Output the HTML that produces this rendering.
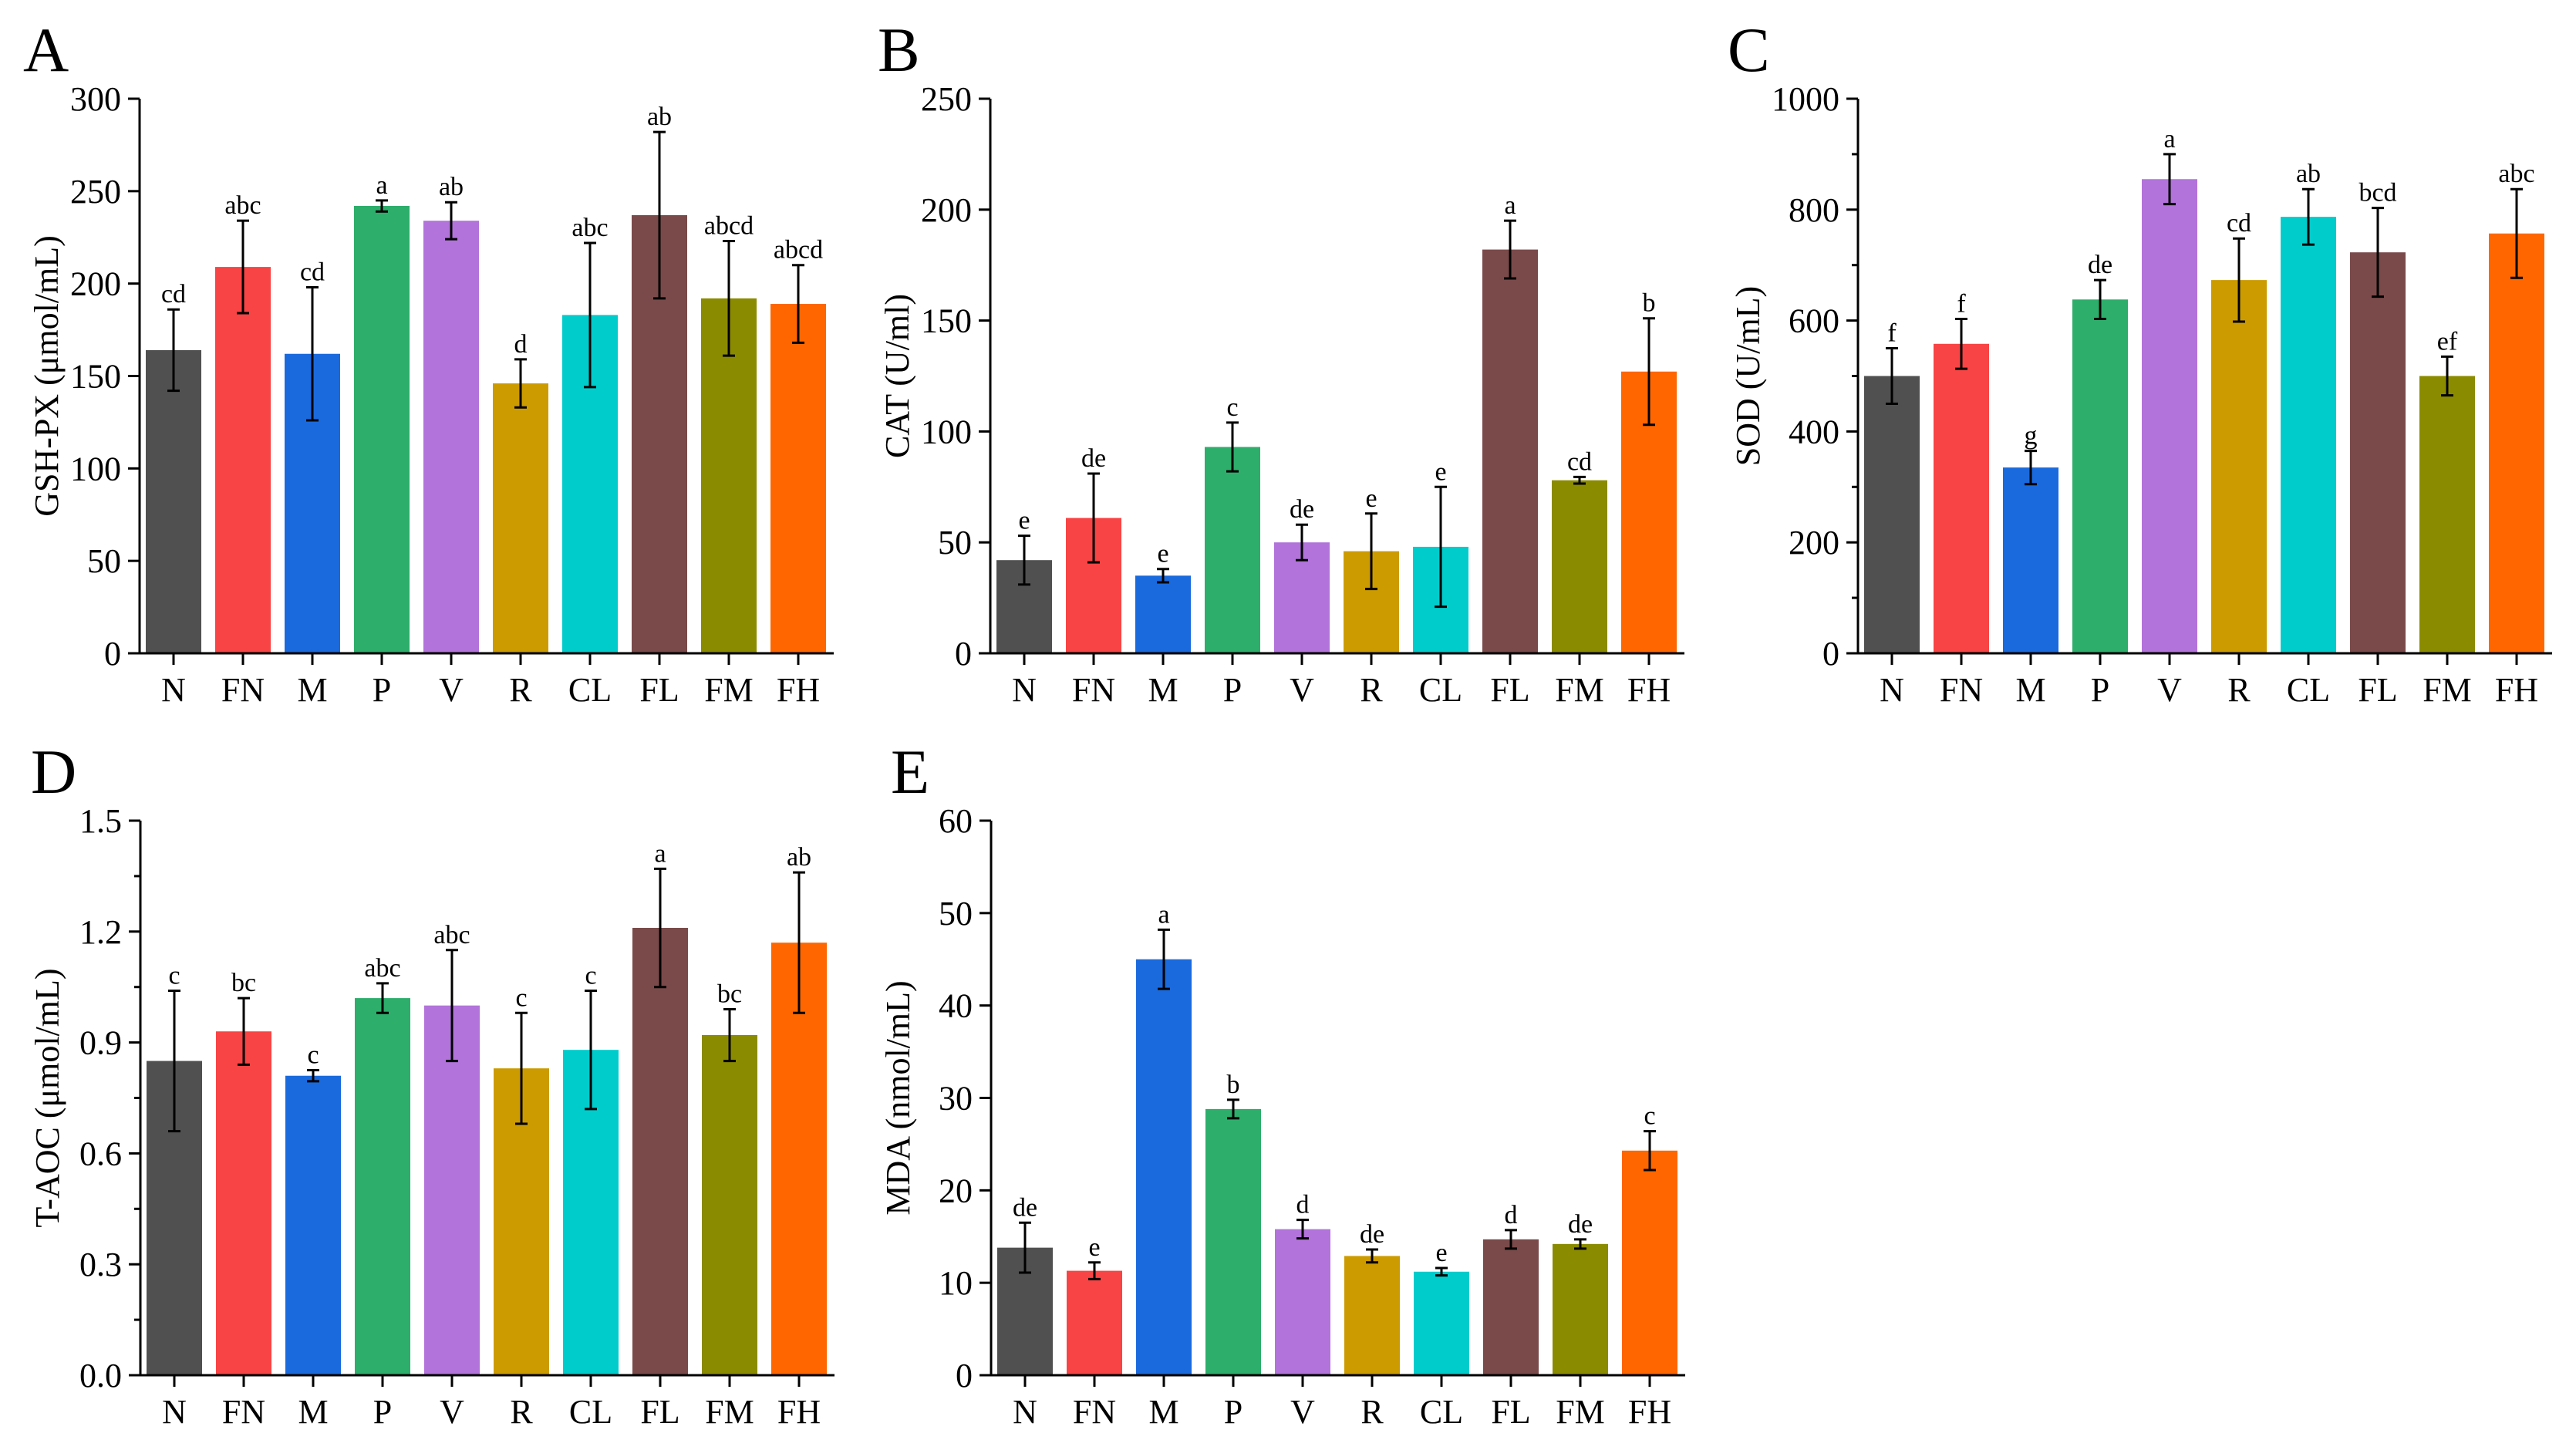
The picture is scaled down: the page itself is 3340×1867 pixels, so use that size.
<!DOCTYPE html>
<html><head><meta charset="utf-8"><style>
html,body{margin:0;padding:0;background:#fff}
svg{display:block}
text{font-family:"Liberation Serif","Times New Roman",serif;fill:#000}
</style></head>
<body>
<svg id="fig" width="3340" height="1867" viewBox="0 0 3340 1867" xmlns="http://www.w3.org/2000/svg"></svg>
<script>
const categories = ["N","FN","M","P","V","R","CL","FL","FM","FH"];
const colors = ["#505050","#F84444","#1A6ADE","#2DAE6B","#B273DB","#CC9B00","#00CCCC","#7A4A4A","#8B8B00","#FF6600"];

const gshValues = [164,209,162,242,234,146,183,237,192,189];
const gshErrors = [22,25,36,3,10,13,39,45,31,21];
const gshLetters = ["cd","abc","cd","a","ab","d","abc","ab","abcd","abcd"];
const gshTicks = [0,50,100,150,200,250,300];

const catValues = [42,61,35,93,50,46,48,182,78,127];
const catErrors = [11,20,3,11,8,17,27,13,1.5,24];
const catLetters = ["e","de","e","c","de","e","e","a","cd","b"];
const catTicks = [0,50,100,150,200,250];

const sodValues = [500,558,335,638,855,673,787,723,500,757];
const sodErrors = [50,45,30,35,45,75,50,80,35,80];
const sodLetters = ["f","f","g","de","a","cd","ab","bcd","ef","abc"];
const sodTicks = [0,200,400,600,800,1000];

const taocValues = [0.85,0.93,0.81,1.02,1.00,0.83,0.88,1.21,0.92,1.17];
const taocErrors = [0.19,0.09,0.015,0.04,0.15,0.15,0.16,0.16,0.07,0.19];
const taocLetters = ["c","bc","c","abc","abc","c","c","a","bc","ab"];
const taocTicks = ["0.0","0.3","0.6","0.9","1.2","1.5"];

const mdaValues = [13.8,11.3,45,28.8,15.8,12.9,11.2,14.7,14.2,24.3];
const mdaErrors = [2.7,0.9,3.2,1,1,0.7,0.4,1,0.5,2.1];
const mdaLetters = ["de","e","a","b","d","de","e","d","de","c"];
const mdaTicks = [0,10,20,30,40,50,60];

const NS = "http://www.w3.org/2000/svg";
const svg = document.getElementById("fig");
function el(tag, attrs, parent){
  const e = document.createElementNS(NS, tag);
  for (const k in attrs) e.setAttribute(k, attrs[k]);
  (parent||svg).appendChild(e);
  return e;
}

function panel(cfg){
  const g = el("g", {});
  
  
  const ax = cfg.ax, y0 = cfg.y0, yTop = y0 - 719, right = ax + 900;
  const tmax = parseFloat(cfg.ticks[cfg.ticks.length-1]);
  const yScale = v => y0 - (v / tmax) * (y0 - yTop);
  const xScale = i => ax + 44 + 90 * i;

  // panel letter
  const pl = el("text", {x: cfg.lx, y: yTop - 36, "font-size": 82}, g);
  pl.textContent = cfg.letter;
  
  

  // bars
  for (let i = 0; i < categories.length; i++){
    const v = cfg.values[i], e = cfg.errors[i], cx = xScale(i);
    const b = el("rect", {x: cx - 36, y: yScale(v), width: 72, height: y0 - yScale(v), fill: colors[i]}, g);
    
    
    const hi = yScale(v + e), lo = yScale(v - e);
    const eb = el("path", {d: `M${cx},${hi}V${lo}M${cx-8},${hi}H${cx+8}M${cx-8},${lo}H${cx+8}`, stroke: "#000", "stroke-width": 3, fill: "none"}, g);
    
    
    const lt = el("text", {x: cx, y: hi - 9, "font-size": 34, "text-anchor": "middle"}, g);
    lt.textContent = cfg.letters[i];
    
    
    const tk = el("line", {x1: cx, x2: cx, y1: y0, y2: y0 + 15, stroke: "#000", "stroke-width": 3}, g);
    
    
    const xl = el("text", {x: cx, y: y0 + 62, "font-size": 44, "text-anchor": "middle"}, g);
    xl.textContent = categories[i];
    
    
  }

  // axes
  const axes = el("path", {d: `M${ax},${yTop}V${y0}H${right}`, stroke: "#000", "stroke-width": 3, fill: "none"}, g);
  
  

  // y ticks
  for (let k = 0; k < cfg.ticks.length; k++){
    const tv = parseFloat(cfg.ticks[k]), ty = yScale(tv);
    const t = el("line", {x1: ax - 15, x2: ax, y1: ty, y2: ty, stroke: "#000", "stroke-width": 3}, g);
    
    
    const tl = el("text", {x: ax - 24, y: ty + 15, "font-size": 44, "text-anchor": "end"}, g);
    tl.textContent = cfg.ticks[k];
    
    
    if (cfg.minor && k < cfg.ticks.length - 1){
      const my = yScale((tv + parseFloat(cfg.ticks[k+1])) / 2);
      const m = el("line", {x1: ax - 8, x2: ax, y1: my, y2: my, stroke: "#000", "stroke-width": 3}, g);
      
      
    }
  }

  // y title
  const tx = ax - cfg.tOff, ty = (y0 + yTop) / 2;
  const yt = el("text", {x: tx, y: ty, "font-size": 44, "text-anchor": "middle", transform: `rotate(-90 ${tx} ${ty})`}, g);
  yt.textContent = cfg.title;
  
  
}

panel({id:"gsh-px", letter:"A", lx:30, ax:181, y0:847, values:gshValues, errors:gshErrors, letters:gshLetters, ticks:gshTicks, title:"GSH-PX (μmol/mL)", tOff:106, minor:false});
panel({id:"cat", letter:"B", lx:1138, ax:1284, y0:847, values:catValues, errors:catErrors, letters:catLetters, ticks:catTicks, title:"CAT (U/ml)", tOff:106, minor:false});
panel({id:"sod", letter:"C", lx:2240, ax:2409, y0:847, values:sodValues, errors:sodErrors, letters:sodLetters, ticks:sodTicks, title:"SOD (U/mL)", tOff:128, minor:true});
panel({id:"t-aoc", letter:"D", lx:40, ax:182, y0:1783, values:taocValues, errors:taocErrors, letters:taocLetters, ticks:taocTicks, title:"T-AOC (μmol/mL)", tOff:106, minor:true});
panel({id:"mda", letter:"E", lx:1155, ax:1285, y0:1783, values:mdaValues, errors:mdaErrors, letters:mdaLetters, ticks:mdaTicks, title:"MDA (nmol/mL)", tOff:106, minor:false});
</script>
</body></html>
